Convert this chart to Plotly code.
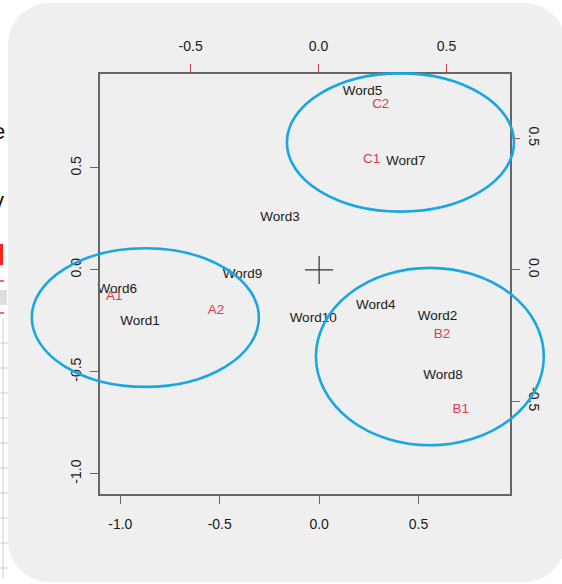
import plotly.graph_objects as go

# ---- biplot data -------------------------------------------------------
# observation scores (primary axes, bottom/left)
words = ["Word1", "Word2", "Word3", "Word4", "Word5",
         "Word6", "Word7", "Word8", "Word9", "Word10"]
word_x = [-0.901, 0.595, -0.197, 0.285, 0.218, -1.015, 0.436, 0.623, -0.385, -0.030]
word_y = [-0.253, -0.230, 0.255, -0.173, 0.874, -0.098, 0.531, -0.521, -0.025, -0.239]

# variable loadings (secondary axes, top/right)
variables = ["A1", "A2", "B1", "B2", "C1", "C2"]
var_x = [-0.798, -0.401, 0.556, 0.482, 0.207, 0.243]
var_y = [-0.102, -0.155, -0.533, -0.248, 0.421, 0.627]

# axis ticks
primary_ticks = [-1.0, -0.5, 0.0, 0.5]
primary_ticktext = ["-1.0", "-0.5", "0.0", "0.5"]
secondary_ticks = [-0.5, 0.0, 0.5]
secondary_ticktext = ["-0.5", "0.0", "0.5"]

# cluster outlines in score units: centre x, centre y, radius x, radius y
cluster_cx = [0.409, -0.874, 0.557]
cluster_cy = [0.625, -0.234, -0.425]
cluster_rx = [0.571, 0.571, 0.573]
cluster_ry = [0.339, 0.340, 0.435]

# ---- layout geometry ---------------------------------------------------
W, H = 562, 584
ML, MR, MT, MB = 100, 52, 74, 90
PW, PH = W - ML - MR, H - MT - MB

x_range = [-1.102, 0.960]
y_range = [-1.0995, 0.961]
x2_range = [-0.854, 0.748]
y2_range = [-0.853, 0.745]

FONT = "Liberation Sans, Arial, Helvetica, sans-serif"
RED = "#d8404c"
BLUE = "#19a6e2"
TEXT = "#1a1a1a"
BOX = "#666666"
PANEL = "#efefef"


def data_to_paper_x(v):
    return (v - x_range[0]) / (x_range[1] - x_range[0])


def data_to_paper_y(v):
    return (v - y_range[0]) / (y_range[1] - y_range[0])


def px_x(p):
    return (p - ML) / PW


def px_y(p):
    return (H - MB - p) / PH


fig = go.Figure()

# origin cross
fig.add_trace(go.Scatter(
    x=[0], y=[0], mode="markers",
    marker=dict(symbol="cross-thin", size=20, line=dict(width=1.2, color="#333333")),
    hoverinfo="skip", showlegend=False,
))

# observation labels
fig.add_trace(go.Scatter(
    x=word_x, y=word_y, mode="text", text=words,
    textposition="middle center",
    textfont=dict(family=FONT, size=13.5, color=TEXT),
    cliponaxis=False, showlegend=False,
))

# variable labels on the loading axes
fig.add_trace(go.Scatter(
    x=var_x, y=var_y, mode="text", text=variables,
    textposition="middle center",
    textfont=dict(family=FONT, size=13.5, color=RED),
    xaxis="x2", yaxis="y2",
    cliponaxis=False, showlegend=False,
))

shapes = []

# rounded grey panel behind everything
left, right, top, bottom, r = 8, 566, 3, 582, 42
k = 0.5523 * r
path = (
    f"M {px_x(left + r)},{px_y(top)} "
    f"L {px_x(right - r)},{px_y(top)} "
    f"C {px_x(right - r + k)},{px_y(top)} {px_x(right)},{px_y(top + r - k)} {px_x(right)},{px_y(top + r)} "
    f"L {px_x(right)},{px_y(bottom - r)} "
    f"C {px_x(right)},{px_y(bottom - r + k)} {px_x(right - r + k)},{px_y(bottom)} {px_x(right - r)},{px_y(bottom)} "
    f"L {px_x(left + r)},{px_y(bottom)} "
    f"C {px_x(left + r - k)},{px_y(bottom)} {px_x(left)},{px_y(bottom - r + k)} {px_x(left)},{px_y(bottom - r)} "
    f"L {px_x(left)},{px_y(top + r)} "
    f"C {px_x(left)},{px_y(top + r - k)} {px_x(left + r - k)},{px_y(top)} {px_x(left + r)},{px_y(top)} Z"
)
shapes.append(dict(type="path", path=path, xref="paper", yref="paper",
                   fillcolor=PANEL, line=dict(width=0), layer="below"))

# page edge details to the left of the panel
shapes.append(dict(type="rect", xref="paper", yref="paper",
                   x0=px_x(0), x1=px_x(3), y0=px_y(265), y1=px_y(244),
                   fillcolor="#ff2020", line=dict(width=0), layer="below"))
for yy in (281, 313):
    shapes.append(dict(type="line", xref="paper", yref="paper",
                       x0=px_x(0), x1=px_x(4), y0=px_y(yy), y1=px_y(yy),
                       line=dict(color="#ff3030", width=1.5), layer="below"))
shapes.append(dict(type="rect", xref="paper", yref="paper",
                   x0=px_x(0), x1=px_x(7), y0=px_y(305), y1=px_y(290),
                   fillcolor="#dddddd", line=dict(width=0), layer="below"))
shapes.append(dict(type="line", xref="paper", yref="paper",
                   x0=px_x(3), x1=px_x(3), y0=px_y(578), y1=px_y(318),
                   line=dict(color="#cfcfcf", width=1), layer="below"))
for yy in range(343, 580, 25):
    shapes.append(dict(type="line", xref="paper", yref="paper",
                       x0=px_x(0), x1=px_x(8), y0=px_y(yy), y1=px_y(yy),
                       line=dict(color="#cfcfcf", width=1), layer="below"))

# cluster ellipses
for cx, cy, rx, ry in zip(cluster_cx, cluster_cy, cluster_rx, cluster_ry):
    shapes.append(dict(
        type="circle", xref="paper", yref="paper",
        x0=data_to_paper_x(cx - rx), x1=data_to_paper_x(cx + rx),
        y0=data_to_paper_y(cy - ry), y1=data_to_paper_y(cy + ry),
        line=dict(color=BLUE, width=2.6), layer="above",
    ))

axis_common = dict(
    showgrid=False, zeroline=False, showline=True,
    linecolor=BOX, linewidth=1.5, ticks="outside", ticklen=8,
    tickwidth=1.2, tickfont=dict(family=FONT, size=14, color=TEXT),
    fixedrange=True,
)

fig.update_layout(
    width=W, height=H,
    margin=dict(l=ML, r=MR, t=MT, b=MB, pad=0),
    paper_bgcolor="white",
    plot_bgcolor="rgba(0,0,0,0)",
    showlegend=False,
    shapes=shapes,
    annotations=[
        dict(text="e", x=px_x(-1), y=px_y(131), xref="paper", yref="paper",
             showarrow=False, font=dict(family=FONT, size=22, color="#111111"),
             xanchor="center", yanchor="middle"),
        dict(text="y", x=px_x(-2), y=px_y(200), xref="paper", yref="paper",
             showarrow=False, font=dict(family=FONT, size=22, color="#111111"),
             xanchor="center", yanchor="middle"),
    ],
    xaxis=dict(axis_common, range=x_range, tickvals=primary_ticks,
               ticktext=primary_ticktext, tickcolor=BOX, side="bottom",
               anchor="y", ticklabelstandoff=8),
    yaxis=dict(axis_common, range=y_range, tickvals=primary_ticks,
               ticktext=primary_ticktext, tickcolor=BOX, side="left",
               anchor="x", tickangle=-90, ticklabelstandoff=4),
    xaxis2=dict(axis_common, range=x2_range, tickvals=secondary_ticks,
                ticktext=secondary_ticktext, tickcolor=RED, side="top",
                overlaying="x", anchor="y", ticklabelstandoff=8),
    yaxis2=dict(axis_common, range=y2_range, tickvals=secondary_ticks,
                ticktext=secondary_ticktext, tickcolor=RED, side="right",
                overlaying="y", anchor="x", tickangle=90, ticklabelstandoff=4),
)

fig.write_html("out.html")
